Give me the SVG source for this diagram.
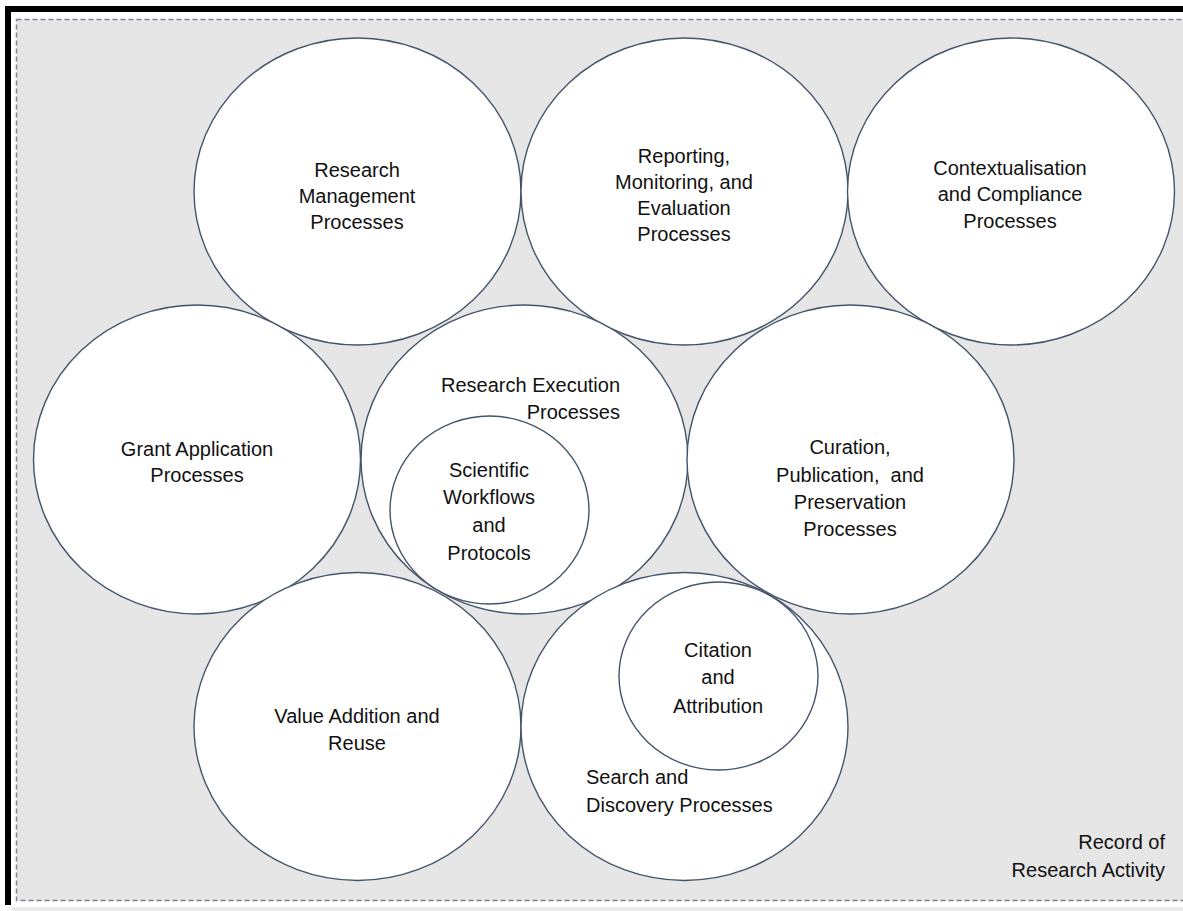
<svg xmlns="http://www.w3.org/2000/svg" width="1183" height="911" viewBox="0 0 1183 911">
<style>
.bg{fill:#e6e6e6;stroke:#7f8595;stroke-width:1.5;stroke-dasharray:5 3}
.big{fill:#ffffff;stroke:#44546a;stroke-width:1.4}
.t{font-family:"Liberation Sans",Arial,sans-serif;font-size:20px;fill:#111111;text-anchor:middle}
.r{text-anchor:end}
.l{text-anchor:start}
</style>
<rect x="0" y="0" width="1183" height="911" fill="#ffffff"/>
<g id="frame">
<rect x="5" y="6" width="1178" height="6" fill="#000000"/>
<rect x="5" y="6" width="6" height="899" fill="#000000"/>
<rect x="11" y="907" width="1172" height="4" fill="#ebebeb"/>
<rect class="bg" x="16.5" y="19.5" width="1180" height="881"/>
</g>
<g id="connectors"></g>
<g id="research-management">
<ellipse class="big" cx="357.5" cy="191.5" rx="163.5" ry="153.5"/>
<text class="t" x="357" y="177">Research</text>
<text class="t" x="357" y="203">Management</text>
<text class="t" x="357" y="229">Processes</text>
</g>
<g id="reporting">
<ellipse class="big" cx="684.5" cy="191.5" rx="163.5" ry="153.5"/>
<text class="t" x="684" y="163">Reporting,</text>
<text class="t" x="684" y="189">Monitoring, and</text>
<text class="t" x="684" y="215">Evaluation</text>
<text class="t" x="684" y="241">Processes</text>
</g>
<g id="contextualisation">
<ellipse class="big" cx="1011" cy="191.5" rx="163.5" ry="153.5"/>
<text class="t" x="1010" y="175">Contextualisation</text>
<text class="t" x="1010" y="201">and Compliance</text>
<text class="t" x="1010" y="228">Processes</text>
</g>
<g id="grant-application">
<ellipse class="big" cx="197" cy="459.5" rx="163.5" ry="154.5"/>
<text class="t" x="197" y="456">Grant Application</text>
<text class="t" x="197" y="482">Processes</text>
</g>
<g id="research-execution">
<ellipse class="big" cx="524.5" cy="459.5" rx="163.5" ry="154.5"/>
<text class="t r" x="620" y="392">Research Execution</text>
<text class="t r" x="620" y="419">Processes</text>
</g>
<g id="curation">
<ellipse class="big" cx="850.5" cy="459.5" rx="163.5" ry="154.5"/>
<text class="t" x="850" y="454">Curation,</text>
<text class="t" x="850" y="482">Publication,&#160; and</text>
<text class="t" x="850" y="509">Preservation</text>
<text class="t" x="850" y="536">Processes</text>
</g>
<g id="value-addition">
<ellipse class="big" cx="357.5" cy="726.5" rx="163.5" ry="154"/>
<text class="t" x="357" y="723">Value Addition and</text>
<text class="t" x="357" y="750">Reuse</text>
</g>
<g id="search-discovery">
<ellipse class="big" cx="684.5" cy="726.5" rx="163.5" ry="154"/>
<text class="t l" x="586" y="784">Search and</text>
<text class="t l" x="586" y="812">Discovery Processes</text>
</g>
<g id="scientific-workflows">
<ellipse class="big" cx="489.5" cy="510" rx="99.5" ry="94"/>
<text class="t" x="489" y="477">Scientific</text>
<text class="t" x="489" y="504">Workflows</text>
<text class="t" x="489" y="532">and</text>
<text class="t" x="489" y="560">Protocols</text>
</g>
<g id="citation-attribution">
<ellipse class="big" cx="718.5" cy="676" rx="99.5" ry="94"/>
<text class="t" x="718" y="657">Citation</text>
<text class="t" x="718" y="684">and</text>
<text class="t" x="718" y="713">Attribution</text>
</g>
<g id="record-label">
<text class="t r" x="1165" y="849">Record of</text>
<text class="t r" x="1165" y="877">Research Activity</text>
</g>
</svg>
